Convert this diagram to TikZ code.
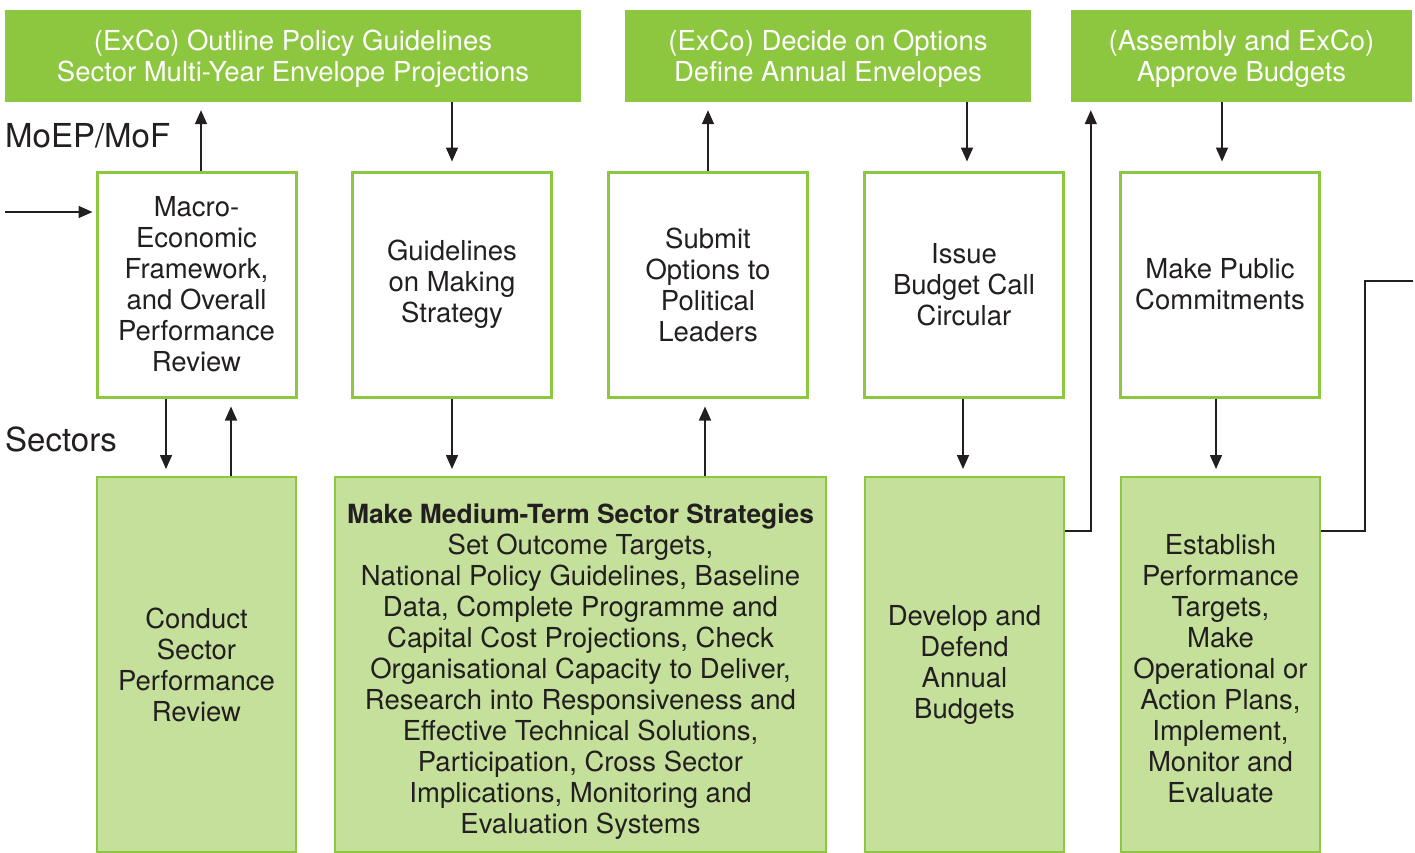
\documentclass[tikz,border=0pt]{standalone}
\usepackage{fontspec}
\setmainfont{TeX Gyre Heros}
\usetikzlibrary{arrows.meta,positioning,calc}

\definecolor{hdrgreen}{HTML}{8DC63F}
\definecolor{lightgreen}{HTML}{C5E09B}
\definecolor{inkgray}{HTML}{231F20}

% pushes a box's text a little down
\newcommand{\dropby}[1]{\rule{0pt}{#1}}

\tikzset{
  hdr/.style={rectangle,fill=hdrgreen,text=white,inner sep=0,align=center,
    minimum height=92,font=\fontsize{27.5}{31}\selectfont},
  upbox/.style={rectangle,draw=hdrgreen,line width=3pt,fill=white,text=inkgray,
    inner sep=0,align=center,minimum width=199,minimum height=225,
    font=\fontsize{27.5}{31}\selectfont},
  lowbox/.style={rectangle,draw=hdrgreen,line width=2pt,fill=lightgreen,text=inkgray,
    inner sep=0,align=center,minimum height=375,font=\fontsize{27.5}{31}\selectfont},
  lane/.style={text=inkgray,anchor=west,inner sep=0,font=\fontsize{33}{36}\selectfont},
  arr/.style={-{Triangle[length=14pt,width=12pt]},line width=1.6pt,draw=inkgray},
  wire/.style={line width=1.6pt,draw=inkgray}
}

\begin{document}
\begin{tikzpicture}[x=1pt,y=-1pt]
\useasboundingbox (0,0) rectangle (1415,852);

% council headers
\node[hdr,minimum width=576] (h1) at (293,56) {\dropby{26pt}(ExCo) Outline Policy Guidelines\\Sector Multi-Year Envelope Projections};
\node[hdr,minimum width=406] (h2) at (828,56) {\dropby{26pt}(ExCo) Decide on Options\\Define Annual Envelopes};
\node[hdr,minimum width=341] (h3) at (1241.5,56) {\dropby{26pt}(Assembly and ExCo)\\Approve Budgets};

% lanes
\node[lane] (moep) at (5,136) {MoEP/MoF};
\node[lane] (sect) at (5,439) {Sectors};

% ministry row
\node[upbox] (u1) at (196.5,284.5) {Macro-\\Economic\\Framework,\\and Overall\\Performance\\Review};
\node[upbox] (u2) at (452,284.5) {Guidelines\\on Making\\Strategy};
\node[upbox] (u3) at (708,284.5) {Submit\\Options to\\Political\\Leaders};
\node[upbox] (u4) at (964,284.5) {Issue\\Budget Call\\Circular};
\node[upbox] (u5) at (1220,284.5) {Make Public\\Commitments};

% sector row
\node[lowbox,minimum width=199] (l1) at (196.5,664.5) {Conduct\\Sector\\Performance\\Review};
\node[lowbox,minimum width=491] (l2) at (580.5,664.5) {\dropby{34pt}{\fontsize{26.4}{31}\selectfont\bfseries Make Medium-Term Sector Strategies}\\Set Outcome Targets,\\National Policy Guidelines, Baseline\\Data, Complete Programme and\\Capital Cost Projections, Check\\Organisational Capacity to Deliver,\\Research into Responsiveness and\\Effective Technical Solutions,\\Participation, Cross Sector\\Implications, Monitoring and\\Evaluation Systems};
\node[lowbox,minimum width=199] (l4) at (964.5,664.5) {Develop and\\Defend\\Annual\\Budgets};
\node[lowbox,minimum width=199] (l5) at (1220.5,664.5) {\dropby{28pt}Establish\\Performance\\Targets,\\Make\\Operational or\\Action Plans,\\Implement,\\Monitor and\\Evaluate};

\coordinate (start) at (5,212);
\coordinate (exit) at (1413,281);

% flows
\draw[arr,shorten >=3pt] (start) -- (u1.west |- start);
\draw[arr,shorten >=8pt] ([xshift=4.5]u1.north) -- ([xshift=4.5]u1.north |- h1.south);
\draw[arr,shorten >=9pt] (h1.south -| u2.north) -- (u2.north);
\draw[arr,shorten >=8pt] (u3.north) -- (u3.north |- h2.south);
\draw[arr,shorten >=9pt] ([xshift=3]h2.south -| u4.north) -- ([xshift=3]u4.north);
\draw[arr,shorten >=9pt] ([xshift=2]h3.south -| u5.north) -- ([xshift=2]u5.north);
\draw[arr,shorten >=7pt] ([xshift=-30.5]u1.south) -- ([xshift=-30.5]l1.north);
\draw[arr,shorten >=8pt] ([xshift=34.5]l1.north) -- ([xshift=34.5]u1.south);
\draw[arr,shorten >=7pt] (u2.south) -- (u2.south |- l2.north);
\draw[arr,shorten >=8pt] (l2.north -| u3.south) ++(-3,0) -- ([xshift=-3]u3.south);
\draw[arr,shorten >=7pt] ([xshift=-1]u4.south) -- ([xshift=-1]l4.north -| u4.south);
\draw[arr,shorten >=7pt] ([xshift=-4]u5.south) -- ([xshift=-4]u5.south |- l5.north);
\draw[arr,shorten >=8pt] (l4.east |- 0,531) -| ([xshift=20]h3.south west);
\draw[wire] (l5.east |- 0,531) -- ++(44,0) |- (exit);

\end{tikzpicture}
\end{document}
